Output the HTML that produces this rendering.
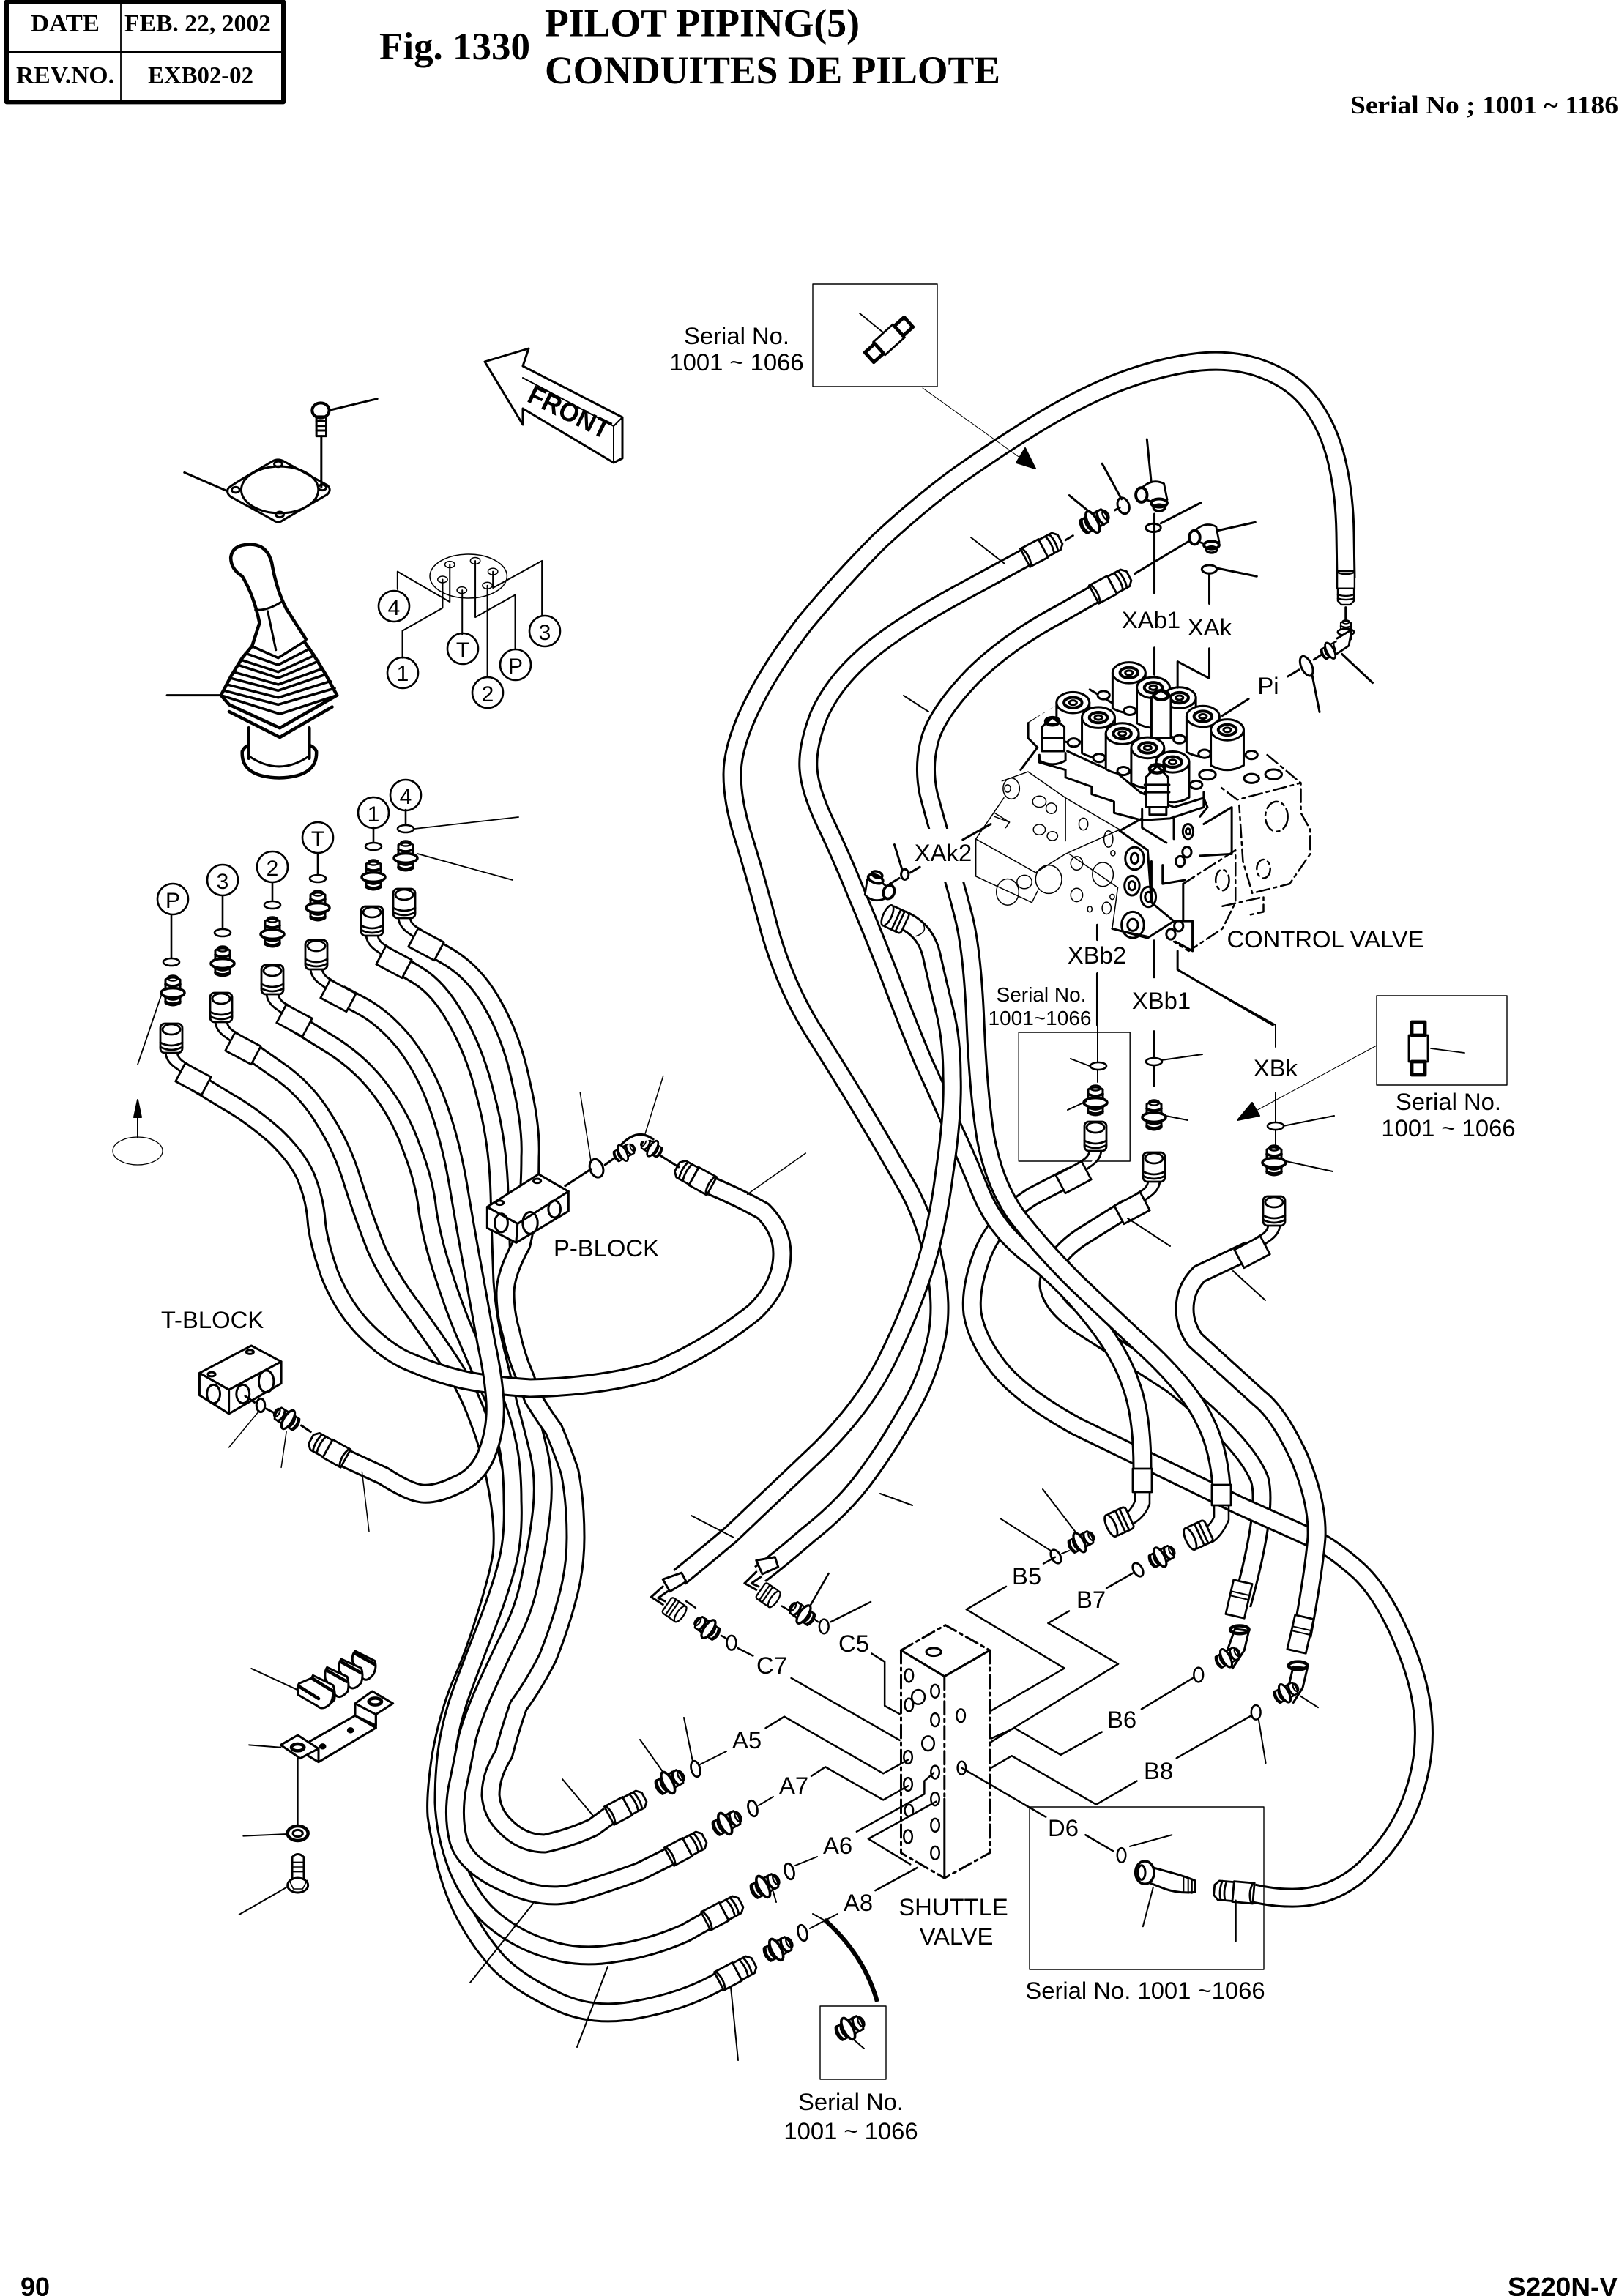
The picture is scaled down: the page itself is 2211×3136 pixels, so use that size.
<!DOCTYPE html>
<html><head><meta charset="utf-8"><title>Pilot Piping</title>
<style>
html,body{margin:0;padding:0;background:#fff}
svg{display:block;fill:none;stroke:#000;stroke-width:1;stroke-linecap:round;stroke-linejoin:round}
text{fill:#000;stroke:none;font-family:"Liberation Sans",sans-serif;font-size:16.4px;text-anchor:middle}
.s{font-family:"Liberation Serif",serif;font-weight:bold;text-anchor:start}
.ho{stroke-width:13.5;stroke-linecap:butt}
.hi{stroke:#fff;stroke-width:10.5;stroke-linecap:butt}
.z{stroke-width:3}
.z *{vector-effect:non-scaling-stroke}
.t{stroke-width:1.5}
.k{stroke-width:4.5}
.w{fill:#fff}
.d{stroke-dasharray:18 6 4 6}
</style></head><body>
<svg xmlns="http://www.w3.org/2000/svg" width="2211" height="3136" viewBox="0 0 1105.5 1568">
<defs>
<path id="h1" d="M919 395 L918.5 364 Q918 334 911.5 310 Q905 287 892 272 Q880 258 859 251 Q838 244 812 248 Q786 252 759 263 Q733 274 707 290 Q681 306 654 325 Q628 344 601 369 Q575 395 550 425 Q526 456 513 483 Q500 510 500 529 Q500 548 508 573 Q516 599 526 637 Q537 675 556 705 Q575 735 590 760 Q605 785 618 808 Q632 832 638 863 Q645 895 638 920 Q632 945 618 967 Q605 990 590 1010 Q575 1030 552 1048 Q530 1067 519 1075"/>
<path id="h2" d="M700 381 L654 406 Q610 430 589 449 Q568 468 559 489 Q551 510 552 525 Q553 540 564 563 Q575 586 585 611 Q596 637 608 668 Q620 700 631 726 Q643 752 651 771 Q660 790 670 815 Q681 841 704 858 Q727 876 746 900 Q765 924 772 945 Q780 966 780 1003"/>
<path id="h3" d="M747 406 L726 418 Q688 438 664 462 Q640 487 635 505 Q630 523 634 542 Q639 561 645 581 Q652 602 658 626 Q664 650 666 698 Q668 746 673 777 Q679 809 694 830 Q710 851 734 875 Q759 899 786 924 Q813 950 822 969 Q832 988 834 1015"/>
<path id="h4" d="M616 628 Q632 635 636 652 Q640 670 645 690 Q650 710 650 735 Q651 760 645 800 Q640 840 630 870 Q620 900 605 930 Q590 960 560 990 L499 1048 Q480 1064 464 1077"/>
<path id="h5" d="M732 803 L705 817 Q681 832 671 856 Q662 880 664 897 Q667 915 682 934 Q697 953 735 974 L846 1028 L895 1050 Q909 1056 928 1073 Q947 1091 962 1131 Q977 1171 970 1207 Q963 1244 938 1270 Q914 1297 880 1296 Q870 1296 856 1293"/>
<path id="h6" d="M770 825 L738 845 Q716 860 716 878 Q718 892 738 905 L800 945 Q850 985 860 1010 Q866 1030 848 1096"/>
<path id="h7" d="M853 854 L819 870 Q809 880 809 894 Q809 905 816 915 L860 955 Q873 965 887 995 Q900 1026 899 1050 Q897 1074 889 1117"/>
<path id="p3" d="M170 717 L190 731 Q209 744 221 764 Q234 784 241 808 Q249 833 257 853 Q266 873 282 894 Q298 916 309 933 Q320 950 327 970 Q335 990 340 1019 Q345 1048 342 1065 Q339 1081 331 1106 Q323 1132 314 1152 Q306 1172 301 1199 Q297 1226 298 1240 Q300 1254 305 1275 Q311 1297 320 1312 Q329 1328 341 1341 Q354 1354 379 1366 Q405 1379 437 1372 Q469 1366 493 1352"/>
<path id="p2" d="M201 698 L222 711 Q244 724 258 742 Q273 761 281 784 Q290 807 292 827 Q295 847 303 871 Q311 896 319 914 Q327 933 335 950 Q343 968 346 984 Q350 1000 350 1025 Q351 1050 346 1069 Q341 1088 332 1111 Q323 1134 316 1153 Q309 1172 306 1190 Q303 1208 303 1231 Q304 1254 313 1277 Q323 1300 338 1312 Q354 1325 374 1331 Q395 1338 419 1334 Q443 1331 468 1320 L484 1311"/>
<path id="p1" d="M270 657 L285 666 Q300 675 312 697 Q325 720 332 750 Q340 780 341 815 Q342 850 343 875 Q345 900 350 920 Q355 940 359 957 Q364 975 368 992 Q372 1010 370 1030 Q368 1050 363 1073 Q359 1096 350 1114 Q341 1132 332 1152 Q323 1172 319 1187 Q316 1203 312 1222 Q309 1241 313 1257 Q318 1274 345 1286 Q372 1299 395 1292 Q418 1285 437 1278 L459 1267"/>
<path id="p4" d="M290 644 L307 654 Q325 665 337 687 Q350 710 356 740 Q363 770 362 790 Q362 825 356 850 Q345 870 345 883 Q345 897 349 910 Q352 925 358 939 L364 955 Q372 968 378 976 Q384 990 389 1005 Q393 1025 393 1050 Q393 1072 387 1093 Q382 1112 374 1132 Q365 1150 354 1165 Q348 1182 344 1198 Q335 1212 335 1226 Q336 1238 344 1246 Q356 1259 372 1259 Q390 1255 405 1248 L416 1240"/>
<path id="pp" d="M132 738 L155 752 Q171 761 187 775 Q203 790 209 804 Q215 819 216 833 Q217 847 225 870 Q234 893 250 909 Q266 925 282 931 Q298 938 315 942 Q333 946 362 948 Q410 947 448 936 Q485 920 515 896 Q534 878 534 856 Q534 840 521 827 Q505 818 486 810"/>
<path id="pt" d="M232 679 L247 687 Q262 695 276 712 Q290 730 299 755 Q308 780 313 810 Q318 840 323 867 Q328 895 332 917 Q337 940 338 957 Q339 975 333 991 Q327 1008 312 1014 Q298 1021 288 1020 Q279 1019 262 1008 L236 996"/>
<g id="fer" stroke-width="1.4">
<rect x="0" y="-7" width="14" height="14" fill="#fff"/><path d="M1 -7 q3 7 0 14"/>
<path d="M14 -6.5H24L27 -3.5V3.5L24 6.5H14Z" fill="#fff"/><path d="M19 -6.5Q21 0 19 6.5M22 -6.5Q24 0 22 6.5"/>
</g>
<g id="cap" stroke-width="1.4">
<path d="M-4 9 Q-4 16 4 21 L8 24 M4 9 Q4 14 10 17 L13 19" fill="#fff"/>
<rect x="-10" y="-7" width="20" height="14" fill="#fff" transform="translate(15,28) rotate(28)"/>
<rect x="-7.5" y="-10" width="15" height="20" rx="3" fill="#fff"/>
<ellipse cx="0" cy="-6" rx="6" ry="3.5"/><path d="M-7.5 3Q0 7 7.5 3M-7.5 6Q0 10 7.5 6"/>
</g>
<g id="nip">
<path d="M-5 -8 Q0 -11 5 -8 L5 8 Q0 11 -5 8Z" fill="#fff" stroke-width="1.5"/>
<path d="M-5 -5 Q0 -2 5 -5 M-5 -2 Q0 1 5 -2 M-5 4 Q0 7 5 4 M-5 7 Q0 10 5 7" stroke-width="1.8"/>
<ellipse cx="0" cy="1" rx="8" ry="3.2" fill="#fff" stroke-width="1.8"/>
<ellipse cx="0" cy="-9" rx="3.5" ry="1.8" stroke-width="1.2"/>
</g>
<g id="sc" stroke-width="1.4">
<rect x="-7" y="-8" width="14" height="16" rx="2" fill="#fff"/><ellipse cx="-7" cy="0" rx="3" ry="8" fill="#fff"/><path d="M0 -8v16M3 -8v16"/>
</g>
<g id="elb" stroke-width="1.3">
<path d="M-7 -3Q0 -11 8 -7L10 3L3 5L-3 3Z" fill="#fff"/>
<ellipse cx="-6" cy="0" rx="3.5" ry="4.5" fill="#fff" stroke-width="1.8"/>
<ellipse cx="5" cy="5" rx="5" ry="2.5" fill="#fff" stroke-width="1.8"/>
<ellipse cx="5" cy="8" rx="3.5" ry="2" stroke-width="1.6"/>
</g>
<g id="sol">
<path fill="#fff" vector-effect="non-scaling-stroke" d="M-44 0V95Q0 120 44 95V0Z"/>
<ellipse rx="44" ry="28" fill="#fff" vector-effect="non-scaling-stroke"/>
<ellipse rx="24" ry="14" stroke-width="4" vector-effect="non-scaling-stroke"/>
<ellipse rx="10" ry="6" vector-effect="non-scaling-stroke"/>
</g>
</defs>
<rect x="0" y="0" width="1105.5" height="1568" fill="#fff" stroke="none"/>

<!-- header -->
<path d="M4.5 1.2H193.5V69.7H4.5Z" stroke-width="3"/>
<path d="M5 35.5H193" stroke-width="1.8"/><path d="M82.5 2V69" stroke-width=".9"/>
<text class="s" x="21" y="21.3" style="font-size:16.6px" textLength="47" lengthAdjust="spacingAndGlyphs">DATE</text>
<text class="s" x="85" y="21.3" style="font-size:16.6px" textLength="100" lengthAdjust="spacingAndGlyphs">FEB. 22, 2002</text>
<text class="s" x="11" y="56.7" style="font-size:16.6px" textLength="67" lengthAdjust="spacingAndGlyphs">REV.NO.</text>
<text class="s" x="101" y="56.7" style="font-size:16.6px" textLength="72" lengthAdjust="spacingAndGlyphs">EXB02-02</text>
<text class="s" x="259" y="40.5" style="font-size:26.5px" textLength="103" lengthAdjust="spacingAndGlyphs">Fig. 1330</text>
<text class="s" x="372" y="24.7" style="font-size:26.8px" textLength="215" lengthAdjust="spacingAndGlyphs">PILOT PIPING(5)</text>
<text class="s" x="372" y="57" style="font-size:26.8px" textLength="311" lengthAdjust="spacingAndGlyphs">CONDUITES DE PILOTE</text>
<text class="s" x="922" y="77.5" style="font-size:17.5px" textLength="183" lengthAdjust="spacingAndGlyphs">Serial No ; 1001 ~ 1186</text>

<!-- hoses -->
<use href="#h6" class="ho"/><use href="#h6" class="hi"/>
<use href="#h5" class="ho"/><use href="#h5" class="hi"/>
<use href="#h1" class="ho"/><use href="#h1" class="hi"/>
<use href="#h2" class="ho"/><use href="#h2" class="hi"/>
<use href="#h3" class="ho"/><use href="#h3" class="hi"/>
<use href="#h4" class="ho"/><use href="#h4" class="hi"/>
<use href="#h7" class="ho"/><use href="#h7" class="hi"/>
<rect x="622" y="566" width="60" height="36" fill="#fff" stroke="none"/>
<use href="#p3" class="ho"/><use href="#p3" class="hi"/>
<use href="#p2" class="ho"/><use href="#p2" class="hi"/>
<use href="#p1" class="ho"/><use href="#p1" class="hi"/>
<use href="#p4" class="ho"/><use href="#p4" class="hi"/>
<use href="#pp" class="ho"/><use href="#pp" class="hi"/>
<use href="#pt" class="ho"/><use href="#pt" class="hi"/>

<!-- ferrules -->
<use href="#fer" transform="translate(416,1240) rotate(-28)"/>
<use href="#fer" transform="translate(457,1268) rotate(-28)"/>
<use href="#fer" transform="translate(482,1312) rotate(-28)"/>
<use href="#fer" transform="translate(491,1353) rotate(-28)"/>
<use href="#fer" transform="translate(700,381) rotate(-28)"/>
<use href="#fer" transform="translate(747,406) rotate(-28)"/>
<use href="#fer" transform="translate(486,810) rotate(209)"/>
<use href="#fer" transform="translate(236,996) rotate(209)"/>
<use href="#fer" transform="translate(856,1293) rotate(185)"/>
<use href="#fer" transform="translate(919,390) rotate(90) scale(.85)"/>
<use href="#sc" transform="translate(612,628) rotate(25) scale(.95)"/>

<!-- joystick-side caps, nipples, o-rings, callouts -->
<use href="#cap" transform="translate(276,617)"/><use href="#cap" transform="translate(254,629)"/>
<use href="#cap" transform="translate(216,652)"/><use href="#cap" transform="translate(186,669)"/>
<use href="#cap" transform="translate(151,688)"/><use href="#cap" transform="translate(117,709)"/>
<use href="#nip" transform="translate(277,585)"/><use href="#nip" transform="translate(255,598)"/>
<use href="#nip" transform="translate(217,619)"/><use href="#nip" transform="translate(186,637)"/>
<use href="#nip" transform="translate(152,657)"/><use href="#nip" transform="translate(118,677)"/>
<g stroke-width="1.3">
<path d="M277 553V566M255 565V578M217 583V600M186 603V618M152 612V637M117 625V657"/>
<ellipse cx="277" cy="566" rx="5.5" ry="2.5" fill="#fff"/><ellipse cx="255" cy="578" rx="5.5" ry="2.5" fill="#fff"/>
<ellipse cx="217" cy="600" rx="5.5" ry="2.5" fill="#fff"/><ellipse cx="186" cy="618" rx="5.5" ry="2.5" fill="#fff"/>
<ellipse cx="152" cy="637" rx="5.5" ry="2.5" fill="#fff"/><ellipse cx="117" cy="657" rx="5.5" ry="2.5" fill="#fff"/>
<circle cx="277" cy="543" r="10.5"/><circle cx="255" cy="555" r="10.5"/><circle cx="217" cy="572" r="10.5"/>
<circle cx="186" cy="592" r="10.5"/><circle cx="152" cy="601" r="10.5"/><circle cx="118" cy="614" r="10.5"/>
<circle cx="269" cy="414" r="10.5"/><circle cx="275" cy="459.5" r="10.5"/><circle cx="316" cy="443" r="10.5"/>
<circle cx="333" cy="473" r="10.5"/><circle cx="352" cy="454" r="10.5"/><circle cx="372" cy="431" r="10.5"/>
</g>
<g>
<text x="277" y="549" style="font-size:15px">4</text><text x="255" y="561" style="font-size:15px">1</text><text x="217" y="578" style="font-size:15px">T</text>
<text x="186" y="598" style="font-size:15px">2</text><text x="152" y="607" style="font-size:15px">3</text><text x="118" y="620" style="font-size:15px">P</text>
<text x="269" y="420" style="font-size:15px">4</text><text x="275" y="465" style="font-size:15px">1</text><text x="316" y="449" style="font-size:15px">T</text>
<text x="333" y="479" style="font-size:15px">2</text><text x="352" y="460" style="font-size:15px">P</text><text x="372" y="437" style="font-size:15px">3</text>
</g>
<path d="M283 566L354 558M285 583L350 601M110 680L94 727" stroke-width=".9"/>

<!-- joystick (zoom coordinates) -->
<g class="z" transform="translate(75,250) scale(.2232,.3189)">
<ellipse cx="645" cy="95" rx="26" ry="16" class="w" style="stroke-width:4"/><rect x="632" y="108" width="30" height="42" style="stroke-width:3"/>
<path d="M632 118H662M632 128H662M632 138H662M647 150V260M670 95L818 70M228 228L360 268"/>
<path d="M362 262Q370 255 500 203Q515 197 535 205L665 255Q680 265 665 275L530 330Q515 338 500 330L370 280Q355 272 362 262Z"/>
<ellipse cx="520" cy="265" rx="118" ry="50"/>
<ellipse cx="515" cy="210" rx="12" ry="6"/><ellipse cx="650" cy="260" rx="12" ry="6"/><ellipse cx="520" cy="318" rx="12" ry="6"/><ellipse cx="385" cy="265" rx="12" ry="6"/>
<path class="k" d="M370 410Q375 382 430 382Q480 382 495 420Q510 480 540 520L600 585M370 410Q370 435 405 450Q440 490 458 550L435 600"/>
<path d="M445 522Q480 525 525 505M483 525L508 608"/>
<path d="M435 600L515 625L595 590M415 615L515 640L612 605M405 630L515 655L625 620M392 640L515 668L638 632M378 655L515 682L650 648M368 668L515 695L662 660M358 682L515 710L675 675M350 695L515 725L688 690M340 705L520 745L695 705" style="stroke-width:3.5"/>
<path class="k" d="M435 600L405 625L370 665L340 705L365 725L520 775L695 705L660 660L625 620L595 590"/>
<path class="k" d="M365 740L520 795L680 730"/>
<path class="k" d="M425 775V840M610 775V840"/>
<path class="k" d="M405 825Q400 880 518 882Q636 880 632 825Q625 815 610 812M405 825Q412 815 425 812"/>
<path d="M425 835Q518 880 610 835"/>
<path d="M175 705H340"/>
<g class="t">
<ellipse cx="1097" cy="450" rx="118" ry="47"/>
<ellipse cx="1040" cy="425" rx="15" ry="7"/><ellipse cx="1118" cy="417" rx="15" ry="7"/><ellipse cx="1172" cy="440" rx="15" ry="7"/>
<ellipse cx="1018" cy="457" rx="15" ry="7"/><ellipse cx="1155" cy="470" rx="15" ry="7"/><ellipse cx="1077" cy="480" rx="15" ry="7"/>
</g>
<path d="M880 478V440L1040 505V425M895 625V567L1018 518V457M1078 480V575M1155 470V665M1118 417V538L1240 490V605M1172 440V475L1322 417V535" stroke-width="2"/>
</g>

<!-- front arrow -->
<path d="M331 247L361 238L357 250L425 285V313L419 316L357 279V290Z" fill="#fff" stroke-width="1.5"/>
<path d="M419 316V291L425 285M419 291L357 258" stroke-width="1"/>
<text x="386" y="287" transform="rotate(26 386 287)" style="font-size:18px;font-weight:bold" textLength="60" lengthAdjust="spacingAndGlyphs">FRONT</text>

<!-- left arrow -->
<path d="M94 777V756"/><path d="M94 751L91.5 763H96.5Z" fill="#000"/><ellipse cx="94" cy="786" rx="17" ry="9.5" stroke-width=".6"/>

<!-- P/T block -->
<g class="z" transform="translate(75,675) scale(.3189,.28703)">
<path class="w" d="M808 520L918 442L982 483L873 560Z"/>
<path class="w" d="M808 520V570L870 605L873 560Z"/><path class="w" d="M873 560L870 605L982 530V483Z"/>
<ellipse cx="835" cy="510" rx="8" ry="5"/><ellipse cx="915" cy="458" rx="8" ry="5"/>
<ellipse cx="838" cy="558" rx="14" ry="22"/><ellipse cx="900" cy="558" rx="16" ry="26"/><ellipse cx="952" cy="525" rx="13" ry="20"/>
<path d="M975 470L1030 430M1060 420L1085 400M1175 395L1218 425"/>
<ellipse cx="1042" cy="428" rx="14" ry="22" transform="rotate(-15 1042 428)"/>
<path class="t" d="M1007 248L1030 410M1185 208L1145 350M1490 392L1365 490"/>
<path class="w" d="M192 915L303 850L367 888L255 955Z"/>
<path class="w" d="M192 915V968L255 1012V955Z"/><path class="w" d="M255 955V1012L367 940V888Z"/>
<ellipse cx="218" cy="918" rx="8" ry="5"/><ellipse cx="300" cy="865" rx="8" ry="5"/>
<ellipse cx="222" cy="965" rx="14" ry="22"/><ellipse cx="285" cy="965" rx="14" ry="22"/><ellipse cx="335" cy="935" rx="16" ry="26"/>
<path d="M290 970L310 985M335 1000L355 1012M410 1040L430 1055"/>
<ellipse cx="323" cy="992" rx="9" ry="16"/>
<path class="t" d="M320 1005L255 1092M378 1055L367 1140M540 1150L555 1292"/>
</g>
<use href="#nip" transform="translate(196,969) rotate(-58) scale(.9)"/>
<use href="#nip" transform="translate(426,787) rotate(62) scale(.75)"/>
<use href="#nip" transform="translate(445,784) rotate(-58) scale(.75)"/>
<path d="M424 782Q435 770 446 778" stroke-width="1.6" fill="#fff"/>

<!-- clamp -->
<g class="z" transform="translate(140,1100) scale(.16667)">
<path class="w" d="M615 165Q600 180 605 210L640 270Q660 300 690 260Q705 230 695 205Z"/>
<path class="w" d="M558 198Q545 215 550 245L585 305Q605 335 640 295Q650 265 640 235Z"/>
<path class="w" d="M500 232Q488 250 493 280L530 340Q550 370 585 330Q592 300 582 270Z"/>
<path class="w" d="M442 265Q430 285 435 315L475 375Q495 405 530 365Q535 335 525 305Z"/>
<path class="w" d="M385 298Q375 315 382 345L460 390Q480 410 510 385Q525 365 525 330L440 275Z"/>
<path class="k" d="M385 310L465 360M442 280L525 330M500 245L580 290M558 210L640 255M615 175L695 220"/>
<path d="M190 237L380 325" style="stroke-width:2"/>
<path class="w" d="M430 535L615 430L700 480L465 620L415 590Z"/>
<path class="w" d="M615 430V380L685 330L770 380L700 425L615 380M615 430L700 470V425"/>
<path d="M700 425V480M465 565V615"/>
<path class="w" d="M310 550L380 510L465 565L390 605Z"/>
<ellipse cx="380" cy="560" rx="26" ry="14" class="k"/><ellipse cx="697" cy="372" rx="26" ry="14" class="k"/>
<ellipse cx="482" cy="556" rx="10" ry="8" fill="#000"/><ellipse cx="596" cy="490" rx="10" ry="8" fill="#000"/>
<path d="M380 605V885M180 550L310 560M157 923L340 915M140 1245L340 1130" style="stroke-width:2"/>
<ellipse cx="380" cy="912" rx="42" ry="30" class="k"/><ellipse cx="380" cy="912" rx="20" ry="14"/>
<path d="M357 1010Q380 985 405 1010V1100H357Z"/><path d="M357 1030H405M357 1050H405M357 1070H405" class="t"/>
<ellipse cx="380" cy="1125" rx="42" ry="30" class="w"/><path d="M345 1105L362 1140H400L418 1105" class="t"/>
</g>

<!-- control valve (zoom 2 coordinates) -->
<g class="z" transform="translate(600,300) scale(.2551)">
<g class="t">
<path d="M330 915L400 890L500 960L645 1045M335 960L260 1070L420 1160L500 1110L645 1045M260 1070V1170L410 1240L425 1210"/>
<path d="M500 960V1075M310 1000L350 1025M510 1110L640 1200L625 1310L720 1330"/>
<ellipse cx="355" cy="935" rx="22" ry="28"/><ellipse cx="345" cy="935" rx="8" ry="10"/>
<ellipse cx="430" cy="970" rx="18" ry="15"/><ellipse cx="462" cy="988" rx="14" ry="14"/>
<ellipse cx="430" cy="1045" rx="16" ry="14"/><ellipse cx="465" cy="1062" rx="14" ry="12"/>
<ellipse cx="390" cy="1185" rx="20" ry="18"/><ellipse cx="345" cy="1212" rx="30" ry="35"/><ellipse cx="455" cy="1178" rx="35" ry="38"/>
<ellipse cx="530" cy="1135" rx="16" ry="18"/><ellipse cx="530" cy="1220" rx="16" ry="18"/><ellipse cx="600" cy="1165" rx="28" ry="32"/>
<ellipse cx="615" cy="1070" rx="12" ry="22"/><ellipse cx="548" cy="1030" rx="12" ry="16"/>
<ellipse cx="610" cy="1255" rx="12" ry="16"/><ellipse cx="565" cy="1258" rx="6" ry="8"/>
<ellipse cx="627" cy="1108" rx="6" ry="7"/><ellipse cx="625" cy="1225" rx="6" ry="7"/>
<path d="M310 1010L350 1025L340 1040"/>
</g>
<g class="d" stroke-width="2.5">
<path d="M400 760L475 715M560 670L600 655M730 720V800M785 730V800"/>
<path d="M880 905L960 965L1130 920M1040 845L1130 920V1000L1155 1045V1110L1100 1190L1000 1215L975 1130L965 980"/>
<ellipse cx="1065" cy="1010" rx="30" ry="40"/>
<ellipse cx="1030" cy="1150" rx="18" ry="25"/>
<path d="M815 1190L955 1100V1240L920 1310L830 1370L790 1345"/>
<path d="M920 1250L1030 1225V1265L985 1275"/>
<ellipse cx="920" cy="1180" rx="18" ry="28"/>
</g>
<path class="w" d="M400 760V800L425 825L380 885L430 870L505 855L570 890L640 925L700 960L790 985L870 960L1000 870L980 720L650 600Z" stroke="none"/>
<path d="M430 850V865L500 885V905L570 930V950L630 970V1000L705 1020L780 1015L870 985V945M400 760V800L425 825L380 885"/>
<path d="M505 835L570 865L640 895L700 945L790 985L870 960M565 670L640 715"/>
<use href="#sol" transform="translate(670,625)"/>
<use href="#sol" transform="translate(520,705)"/>
<use href="#sol" transform="translate(735,665)"/>
<use href="#sol" transform="translate(805,692)"/>
<use href="#sol" transform="translate(868,742)"/>
<use href="#sol" transform="translate(588,745)"/>
<use href="#sol" transform="translate(933,778)"/>
<use href="#sol" transform="translate(652,788)"/>
<use href="#sol" transform="translate(720,826)"/>
<use href="#sol" transform="translate(787,864)"/>
<path class="w" d="M730 690L755 672L782 690V800H730Z"/><ellipse cx="756" cy="685" rx="20" ry="12" class="k"/>
<path class="w" d="M437 770L465 745L497 770V835H437Z"/><ellipse cx="465" cy="755" rx="18" ry="10" class="k"/>
<path d="M437 800H497M430 845V860Q465 880 500 860V840"/>
<path class="w" d="M715 905L745 875L775 905V985H715Z"/><ellipse cx="745" cy="882" rx="20" ry="11" class="k"/>
<path d="M712 925H778M712 945H778M725 985V1005H770V985"/>
<g class="w">
<ellipse cx="602" cy="685" rx="16" ry="11"/><ellipse cx="672" cy="727" rx="16" ry="11"/><ellipse cx="522" cy="812" rx="16" ry="11"/><ellipse cx="590" cy="853" rx="16" ry="11"/>
<ellipse cx="655" cy="888" rx="16" ry="11"/><ellipse cx="805" cy="803" rx="16" ry="11"/><ellipse cx="872" cy="842" rx="16" ry="11"/><ellipse cx="850" cy="925" rx="16" ry="11"/><ellipse cx="998" cy="845" rx="16" ry="11"/>
</g>
<ellipse cx="880" cy="898" rx="22" ry="13"/><ellipse cx="998" cy="908" rx="20" ry="12"/><ellipse cx="1057" cy="897" rx="22" ry="13"/>
<path d="M645 1048L705 1015M705 990V1040L770 1080M760 1140V1190L820 1180M730 1130V1240L790 1290M790 1010V1070M860 1010L880 985L870 960M870 1030L945 985V1110L860 1115"/>
<path d="M645 1048L720 1100L730 1240M625 1310L720 1335L790 1290L840 1290V1370L795 1345"/>
<path d="M815 1190V1290"/>
<ellipse cx="685" cy="1122" rx="25" ry="30"/><ellipse cx="685" cy="1122" rx="10" ry="14"/>
<ellipse cx="678" cy="1195" rx="20" ry="26"/><ellipse cx="678" cy="1195" rx="9" ry="12"/>
<ellipse cx="722" cy="1225" rx="20" ry="27"/><ellipse cx="722" cy="1225" rx="9" ry="13"/>
<ellipse cx="680" cy="1300" rx="30" ry="35"/><ellipse cx="680" cy="1300" rx="14" ry="16"/>
<ellipse cx="828" cy="1050" rx="14" ry="20"/><ellipse cx="828" cy="1050" rx="6" ry="8"/><ellipse cx="825" cy="1105" rx="12" ry="14"/><ellipse cx="807" cy="1130" rx="12" ry="14"/>
<ellipse cx="782" cy="1325" rx="12" ry="14"/><ellipse cx="803" cy="1303" rx="12" ry="14"/>
<path d="M225 1072L300 1030"/>
<!-- upper connectors -->
<path d="M738 200V412M738 558V630M885 360V440M885 560V640L800 595V665M755 225L862 170M905 345L1012 367M905 245L1008 222M685 360L835 270M632 190L645 183M718 0L730 120M598 65L650 160M510 150L565 195M520 258L500 270"/>
<path d="M1250 450V495M1095 635L1125 617M1165 590L1195 570M1240 575L1322 652M1160 630L1180 730M990 695L920 740M110 1145L85 1160M42 1085L62 1150M55 1175L30 1190"/>
<ellipse cx="735" cy="237" rx="20" ry="11"/><ellipse cx="885" cy="348" rx="20" ry="11"/><ellipse cx="655" cy="178" rx="15" ry="22" transform="rotate(-20 655 178)"/>
<ellipse cx="1145" cy="607" rx="14" ry="28" transform="rotate(-25 1145 607)"/><ellipse cx="70" cy="1165" rx="10" ry="14"/>
<path d="M120 1300Q130 1320 100 1330" class="t"/>
<path d="M585 1300V1340M585 1430V1568M737 1342V1440M800 1370V1420L1055 1568"/>
</g>
<use href="#nip" transform="translate(747,356) rotate(62)"/>
<use href="#elb" transform="translate(786,338) scale(1.1)"/>
<use href="#elb" transform="translate(822,367) scale(1.05)"/>
<use href="#nip" transform="translate(919,431) scale(.7)"/>
<use href="#nip" transform="translate(909,444) rotate(62) scale(.75)"/>
<path d="M913 436L923 430L921 441L912 447" stroke-width="1.4" fill="#fff"/>
<use href="#elb" transform="translate(601,607) rotate(200) scale(1.05)"/>

<!-- boxes -->
<g stroke-width=".7">
<rect x="555" y="194" width="85" height="70"/>
<rect x="940" y="680" width="89" height="61"/>
<rect x="695.6" y="705" width="76" height="88"/>
<rect x="703" y="1234" width="160" height="111"/>
<rect x="560" y="1370" width="45" height="50"/>
</g>
<path d="M630 265L697 313M940 714L855 760" stroke-width=".5"/>
<path d="M707 320L694 316L700 306Z" fill="#000"/>
<path d="M845 765L855 753L860 762Z" fill="#000"/>

<!-- top box fitting -->
<g transform="translate(607,232) rotate(-42)" stroke-width="1.4">
<rect x="-9" y="-6" width="18" height="12" fill="#fff"/><rect x="-18" y="-4.5" width="9" height="9" fill="#fff" stroke-width="2.4"/><rect x="9" y="-4.5" width="9" height="9" fill="#fff" stroke-width="2.4"/>
</g>
<path d="M587 214L603 227" stroke-width=".9"/>
<!-- right box fitting -->
<g transform="translate(968,716)" stroke-width="1.4">
<rect x="-6" y="-9" width="13" height="18" fill="#fff"/><rect x="-4" y="-18" width="9" height="9" fill="#fff" stroke-width="2.4"/><rect x="-4" y="9" width="9" height="9" fill="#fff" stroke-width="2.4"/>
</g>
<path d="M977 716L1000 719" stroke-width=".9"/>

<!-- XBb fittings -->
<use href="#cap" transform="translate(748,776) scale(-1,1)"/>
<use href="#cap" transform="translate(788,797) scale(-1,1)"/>
<use href="#cap" transform="translate(870,827) scale(-1,1)"/>
<use href="#nip" transform="translate(748,752)"/><use href="#nip" transform="translate(788,762)"/><use href="#nip" transform="translate(870,793)"/>
<g stroke-width="1">
<path d="M749.5 664V739M788 704V742M871 746V784"/>
<path d="M805 663L871 700V715M731 723L744 728M729 758L742 752M793 724L821 720M796 762L811 765M876 769L911 762M878 793L910 800M770 832L799 851M842 868L864 888"/>
<path d="M601 1020L623 1028M472 1035L501 1050M617 475L634 486M663 367L686 385M683 1037L719 1060M712 1017L735 1047M384 1215L405 1240M321 1354L364 1300M394 1398L415 1343M499 1357L504 1407"/>
<path d="M467 1173L473 1203M437 1188L454 1212"/>
<ellipse cx="750" cy="728" rx="5.5" ry="2.5" fill="#fff" stroke-width="1.3"/><ellipse cx="788" cy="725" rx="5.5" ry="2.5" fill="#fff" stroke-width="1.3"/><ellipse cx="871" cy="769" rx="5.5" ry="2.5" fill="#fff" stroke-width="1.3"/>
</g>

<!-- lower B fittings -->
<rect x="773.5" y="1003" width="13" height="16" fill="#fff" stroke-width="1.4"/>
<path d="M775 1019V1025Q772 1032 768 1034M785 1019V1027Q782 1036 773 1041" stroke-width="1.3"/>
<rect x="827.5" y="1014" width="13" height="14" fill="#fff" stroke-width="1.4"/>
<path d="M829 1028V1036Q826 1042 822 1044M839 1028V1038Q835 1048 828 1053" stroke-width="1.3"/>
<use href="#sc" transform="translate(765,1039) rotate(-25)"/>
<use href="#sc" transform="translate(819,1048) rotate(-25)"/>
<rect x="-6.5" y="-12" width="13" height="24" fill="#fff" stroke-width="1.4" transform="translate(846,1092) rotate(13)"/>
<path d="M-6.5 -4H6.5M-6.5 -1H6.5" transform="translate(846,1092) rotate(13)"/>
<rect x="-6.5" y="-12" width="13" height="24" fill="#fff" stroke-width="1.4" transform="translate(888,1116) rotate(13)"/>
<path d="M-6.5 -4H6.5M-6.5 -1H6.5" transform="translate(888,1116) rotate(13)"/>
<use href="#nip" transform="translate(738,1053) rotate(62) scale(.9)"/>
<use href="#nip" transform="translate(793,1063) rotate(62) scale(.9)"/>
<use href="#nip" transform="translate(457,1217) rotate(62)"/>
<use href="#nip" transform="translate(496,1245) rotate(62)"/>
<use href="#nip" transform="translate(522,1288) rotate(62)"/>
<use href="#nip" transform="translate(531,1331) rotate(62)"/>
<use href="#nip" transform="translate(580,1385) rotate(62)"/>
<path d="M583 1393L590 1399M528 1292L530 1299" stroke-width="1"/>
<g fill="#fff" stroke-width="1.4">
<ellipse cx="475" cy="1208" rx="3" ry="5.5" transform="rotate(-15 475 1208)"/>
<ellipse cx="514" cy="1235" rx="3" ry="5.5" transform="rotate(-15 514 1235)"/>
<ellipse cx="539" cy="1278" rx="3" ry="5.5" transform="rotate(-15 539 1278)"/>
<ellipse cx="548" cy="1320" rx="3" ry="5.5" transform="rotate(-15 548 1320)"/>
<ellipse cx="721" cy="1063" rx="3" ry="5" transform="rotate(-30 721 1063)"/>
<ellipse cx="777" cy="1072" rx="3" ry="5" transform="rotate(-30 777 1072)"/>
</g>
<path d="M478 1205L496 1196M518 1233L528 1227M543 1274L558 1268M553 1317L572 1307M725 1061L730 1059M757 1084L774 1074"/>
<path d="M563 1311Q590 1335 599 1367" stroke-width="3" stroke-linecap="butt"/><path d="M555 1307L564 1312" stroke-width="1"/>

<!-- shuttle valve + connectors (zoom 4 coordinates) -->
<g class="z" transform="translate(400,1050) scale(.31888,.22321)">
<path class="w d" d="M675 345L770 268L865 345L768 425Z"/>
<path class="w" stroke="none" d="M675 345V965L768 1042L865 965V345L768 425Z"/>
<path class="d" d="M675 345V965M865 345V965L768 1042L675 965M768 425V800"/>
<path d="M768 800V1042M675 345L768 425L865 345"/>
<g stroke-width="2.5">
<ellipse cx="745" cy="350" rx="16" ry="12" style="stroke-width:3"/>
<ellipse cx="692" cy="422" rx="9" ry="20"/><ellipse cx="748" cy="470" rx="9" ry="20"/><ellipse cx="712" cy="488" rx="14" ry="22"/>
<ellipse cx="692" cy="512" rx="9" ry="20"/><ellipse cx="748" cy="558" rx="9" ry="20"/><ellipse cx="803" cy="545" rx="9" ry="20"/>
<ellipse cx="733" cy="630" rx="13" ry="22"/><ellipse cx="690" cy="672" rx="9" ry="20"/><ellipse cx="748" cy="718" rx="9" ry="20"/>
<ellipse cx="805" cy="705" rx="9" ry="20"/><ellipse cx="690" cy="755" rx="9" ry="20"/><ellipse cx="748" cy="800" rx="9" ry="20"/>
<ellipse cx="692" cy="835" rx="9" ry="18"/><ellipse cx="748" cy="880" rx="9" ry="20"/><ellipse cx="690" cy="915" rx="9" ry="20"/><ellipse cx="748" cy="965" rx="9" ry="20"/>
</g>
<path stroke-width="2.5" d="M612 355L640 380V515L672 540M440 430L672 620M385 583L425 548L637 722L690 680M483 730L513 702L637 803L690 760M580 900L725 785V745L745 720M620 1080L710 1010M695 1000L605 922L750 808"/>
<path stroke-width="2.5" d="M815 220L900 150M815 220L1025 400L868 530M990 262L1035 225M990 262L1140 387L868 625M1105 595L1017 665L918 583L868 615M1180 745L1093 817L912 668L868 705M805 705L985 855M1070 910L1130 960M1190 525L1300 430M1265 675L1425 545M980 80L1005 60M1115 155L1170 110"/>
<path stroke-width="2.5" d="M480 210L520 110M525 258L610 197M325 338L358 362M215 195L235 215M290 300L300 308M420 210L438 225M490 250L497 258"/>
<path stroke-width="2" d="M1165 945L1255 910M1215 1070L1193 1190M1392 1110V1235M1440 550L1456 690M1530 485L1568 520"/>
<g stroke-width="2.5">
<ellipse cx="1147" cy="972" rx="9" ry="22" class="w"/><ellipse cx="1312" cy="420" rx="10" ry="22" class="w"/><ellipse cx="1435" cy="535" rx="10" ry="22" class="w"/>
<ellipse cx="312" cy="322" rx="10" ry="22" class="w"/><ellipse cx="510" cy="272" rx="10" ry="22" class="w"/>
</g>
<path d="M1375 340L1390 280L1420 285L1410 345L1385 400" class="w"/><ellipse cx="1400" cy="282" rx="20" ry="12" class="k"/>
<path d="M1505 455L1515 395L1545 400L1535 460L1515 505" class="w"/><ellipse cx="1525" cy="392" rx="20" ry="12" class="k"/>
<!-- C7 / C5 elbows -->
<path class="w" d="M165 128L205 108L215 135L180 165Z"/><path class="w" d="M365 70L405 60L412 90L378 112Z"/>
<path d="M165 150L140 182L165 205M175 165L155 185L170 195M365 105L340 140L365 160M375 120L355 140L370 150"/>
<!-- D6 elbow -->
<path class="w" d="M1190 1000L1240 1020Q1280 1035 1305 1050V1085Q1270 1090 1240 1075L1195 1050Z"/>
<ellipse cx="1197" cy="1025" rx="20" ry="35" class="w" style="stroke-width:3.5"/><ellipse cx="1190" cy="1025" rx="8" ry="22"/>
<path stroke-width="2" d="M1280 1040V1085M1290 1045V1088M1298 1048V1088"/>
</g>
<!-- C7/C5 caps + nipples; B6/B8 nipples -->
<use href="#sc" transform="translate(460,1099) rotate(215) scale(.8)"/>
<use href="#sc" transform="translate(524,1089) rotate(215) scale(.8)"/>
<use href="#nip" transform="translate(483,1112) rotate(-55) scale(.9)"/>
<use href="#nip" transform="translate(548,1102) rotate(-55) scale(.9)"/>
<use href="#nip" transform="translate(838,1132) rotate(62) scale(.85)"/>
<use href="#nip" transform="translate(878,1156) rotate(62) scale(.85)"/>
<!-- labels -->
<g>
<text x="503" y="235">Serial No.</text><text x="503" y="253">1001 ~ 1066</text>
<text x="786" y="429">XAb1</text><text x="826" y="434">XAk</text><text x="866" y="474">Pi</text><text x="644" y="588">XAk2</text>
<text x="749" y="658">XBb2</text><text x="793" y="689">XBb1</text><text x="871" y="735">XBk</text>
<text x="905" y="647">CONTROL VALVE</text>
<text x="711" y="684" style="font-size:14px">Serial No.</text><text x="710" y="700" style="font-size:14px">1001~1066</text>
<text x="989" y="758">Serial No.</text><text x="989" y="776">1001 ~ 1066</text>
<text x="414" y="858">P-BLOCK</text><text x="145" y="907">T-BLOCK</text>
<text x="701" y="1082">B5</text><text x="745" y="1098">B7</text><text x="583" y="1128">C5</text><text x="527" y="1143">C7</text>
<text x="766" y="1180">B6</text><text x="791" y="1215">B8</text>
<text x="510" y="1194">A5</text><text x="542" y="1225">A7</text><text x="572" y="1266">A6</text><text x="586" y="1305">A8</text>
<text x="726" y="1254">D6</text>
<text x="651" y="1308">SHUTTLE</text><text x="653" y="1328">VALVE</text>
<text x="782" y="1365">Serial No. 1001 ~1066</text>
<text x="581" y="1441">Serial No.</text><text x="581" y="1461">1001 ~ 1066</text>
<text x="24" y="1568" style="font-size:18px;font-weight:bold">90</text>
<text x="1067" y="1568" style="font-size:18px;font-weight:bold" textLength="75" lengthAdjust="spacingAndGlyphs">S220N-V</text>
</g>
</svg>
</body></html>
